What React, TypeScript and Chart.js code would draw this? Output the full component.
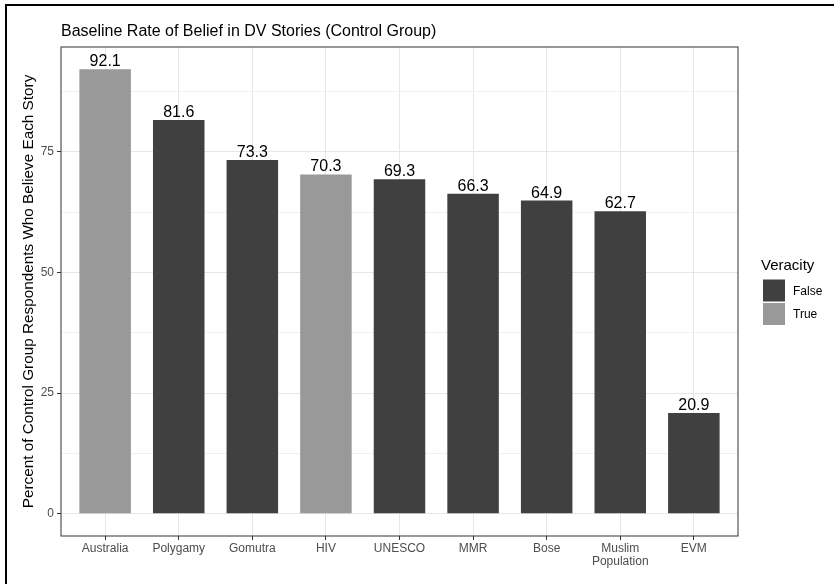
import React, { useEffect, useRef } from "react";
import { Chart, registerables } from "chart.js";

Chart.register(...registerables);

// Stories shown on the x axis, in plotted order
const categories = ["Australia", "Polygamy", "Gomutra", "HIV", "UNESCO", "MMR", "Bose", "Muslim Population", "EVM"];
// Tick text for each story (long names wrap onto two lines)
const categoryTickLabels: (string | string[])[] = [
  "Australia", "Polygamy", "Gomutra", "HIV", "UNESCO", "MMR", "Bose", ["Muslim", "Population"], "EVM",
];
// Percent of control-group respondents who believe each story
const beliefPercent = [92.1, 81.6, 73.3, 70.3, 69.3, 66.3, 64.9, 62.7, 20.9];
// Whether each story is actually true
const veracity = ["True", "False", "False", "True", "False", "False", "False", "False", "False"];
const veracityLevels = ["False", "True"];
const veracityColors: Record<string, string> = { False: "#404040", True: "#999999" };
// Labelled y ticks and the unlabelled minor grid between them
const yMajorTicks = [0, 25, 50, 75];
const yMinorTicks = [12.5, 37.5, 62.5, 87.5];

const FONT = "'Liberation Sans', Arial, Helvetica, sans-serif";

const panelBorder = {
  id: "panelBorder",
  afterDatasetsDraw(chart: any) {
    const { ctx, chartArea } = chart;
    ctx.save();
    ctx.strokeStyle = "#333333";
    ctx.lineWidth = 1;
    ctx.strokeRect(chartArea.left, chartArea.top, chartArea.right - chartArea.left, chartArea.bottom - chartArea.top);
    ctx.restore();
  },
};

const valueLabels = {
  id: "valueLabels",
  afterDatasetsDraw(chart: any) {
    const { ctx } = chart;
    ctx.save();
    ctx.font = `16px ${FONT}`;
    ctx.fillStyle = "#000000";
    ctx.textAlign = "center";
    ctx.textBaseline = "alphabetic";
    chart.data.datasets.forEach((ds: any, di: number) => {
      const meta = chart.getDatasetMeta(di);
      meta.data.forEach((bar: any, j: number) => {
        const v = ds.data[j].y;
        ctx.fillText(v.toFixed(1), bar.x, bar.y - 3);
      });
    });
    ctx.restore();
  },
};

const veracityLegend = {
  id: "veracityLegend",
  afterDraw(chart: any) {
    const { ctx, chartArea } = chart;
    const x0 = chartArea.right + 23;
    const key = 22;
    const gap = 1.5;
    const midY = (chartArea.top + chartArea.bottom) / 2;
    const titleBase = midY - 22;
    ctx.save();
    ctx.textAlign = "left";
    ctx.textBaseline = "alphabetic";
    ctx.fillStyle = "#000000";
    ctx.font = `15px ${FONT}`;
    ctx.fillText("Veracity", x0, titleBase);
    ctx.font = `12px ${FONT}`;
    veracityLevels.forEach((level, i) => {
      const top = titleBase + 10 + i * (key + gap);
      ctx.fillStyle = veracityColors[level];
      ctx.fillRect(x0 + 2, top, key, key);
      ctx.fillStyle = "#000000";
      ctx.fillText(level, x0 + 32, top + key / 2 + 4.3);
    });
    ctx.restore();
  },
};

export default function App() {
  const canvasRef = useRef<HTMLCanvasElement | null>(null);

  useEffect(() => {
    if (!canvasRef.current) return;
    const yMax = Math.max(...beliefPercent);
    const yPad = yMax * 0.05;

    const datasets = veracityLevels.map((level) => ({
      label: level,
      data: beliefPercent
        .map((v, i) => ({ x: i + 1, y: v, level: veracity[i] }))
        .filter((p) => p.level === level)
        .map((p) => ({ x: p.x, y: p.y })),
      backgroundColor: veracityColors[level],
      borderWidth: 0,
      barPercentage: 0.7,
      categoryPercentage: 1,
      grouped: false,
    }));

    const chart = new Chart(canvasRef.current, {
      type: "bar",
      data: { datasets },
      plugins: [panelBorder, valueLabels, veracityLegend],
      options: {
        animation: false,
        responsive: false,
        maintainAspectRatio: false,
        layout: { padding: { left: 0, right: 96, top: 0, bottom: 0 } },
        plugins: {
          legend: { display: false },
          tooltip: { enabled: false },
          title: {
            display: true,
            text: "Baseline Rate of Belief in DV Stories (Control Group)",
            align: "start",
            fullSize: false,
            color: "#000000",
            font: { family: FONT, size: 16, weight: "normal", lineHeight: 1.2 },
            padding: { top: 21.6, bottom: 6.2 },
          },
        },
        scales: {
          x: {
            type: "linear",
            offset: false,
            min: 0.4,
            max: categories.length + 0.6,
            afterBuildTicks: (scale: any) => {
              scale.ticks = categories.map((_, i) => ({ value: i + 1 }));
            },
            afterFit: (scale: any) => {
              scale.height = 48;
            },
            ticks: {
              autoSkip: false,
              maxRotation: 0,
              minRotation: 0,
              padding: 2,
              color: "#4D4D4D",
              font: { family: FONT, size: 12, lineHeight: 1.1 },
              callback: (value: any) => categoryTickLabels[Math.round(value) - 1],
            },
            grid: {
              offset: false,
              color: "#E6E6E6",
              lineWidth: 1,
              tickColor: "#333333",
              tickLength: 4,
              tickWidth: 1,
            },
            border: { display: false },
          },
          y: {
            type: "linear",
            min: -yPad,
            max: yMax + yPad,
            afterBuildTicks: (scale: any) => {
              scale.ticks = [...yMajorTicks, ...yMinorTicks]
                .sort((a, b) => a - b)
                .map((v) => ({ value: v }));
            },
            afterFit: (scale: any) => {
              scale.width = 61;
            },
            ticks: {
              autoSkip: false,
              padding: 3,
              color: "#4D4D4D",
              font: { family: FONT, size: 12 },
              callback: (value: any) => (yMajorTicks.includes(value) ? String(value) : ""),
            },
            grid: {
              color: (ctx: any) => (yMajorTicks.includes(ctx.tick?.value) ? "#E6E6E6" : "#F1F1F1"),
              lineWidth: 1,
              tickColor: (ctx: any) => (yMajorTicks.includes(ctx.tick?.value) ? "#333333" : "rgba(0,0,0,0)"),
              tickLength: 4,
              tickWidth: 1,
            },
            border: { display: false },
            title: {
              display: true,
              text: "Percent of Control Group Respondents Who Believe Each Story",
              color: "#000000",
              font: { family: FONT, size: 15.3, lineHeight: 1.2 },
              padding: { top: 20, bottom: 0 },
            },
          },
        },
      } as any,
    });

    return () => chart.destroy();
  }, []);

  return (
    <div style={{ position: "fixed", left: 0, top: 0, width: 834, height: 584, background: "#ffffff" }}>
      <canvas ref={canvasRef} width={834} height={584} style={{ display: "block" }} />
      <div
        style={{
          position: "absolute",
          left: 5,
          top: 4,
          right: 0,
          bottom: 0,
          borderLeft: "2px solid #000000",
          borderTop: "2px solid #000000",
          pointerEvents: "none",
        }}
      />
    </div>
  );
}
